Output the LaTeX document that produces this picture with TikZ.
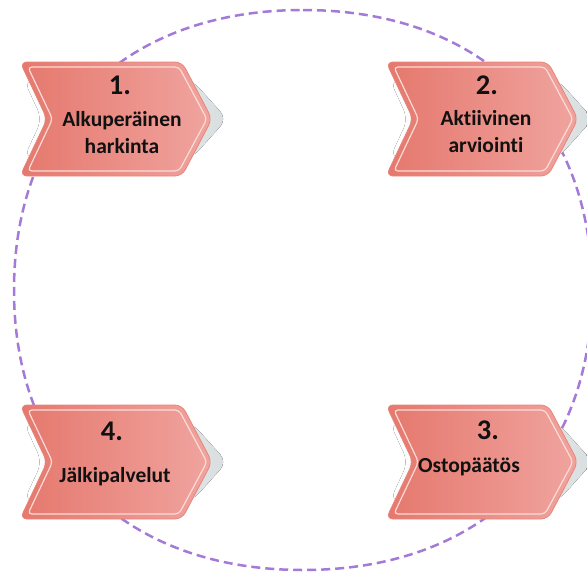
\documentclass[tikz,border=0pt]{standalone}
\usepackage{fontspec}
\setmainfont{Carlito}[RawFeature={-liga}]
\definecolor{ringpurple}{HTML}{A47AD8}
\definecolor{bodyL}{HTML}{E5786D}
\definecolor{bodyR}{HTML}{F0A49F}
\definecolor{bodyEdge}{HTML}{E8857B}
\definecolor{rimcol}{HTML}{FBDCD8}
\definecolor{shadowgray}{HTML}{D8DEDF}
\definecolor{inkcol}{HTML}{111111}
\tikzset{
  ring/.style={draw=ringpurple, line width=2.5pt, dash pattern=on 9pt off 5pt},
  numtext/.style={font=\bfseries\fontsize{28.5}{30}\selectfont, text=inkcol, inner sep=0pt, anchor=base},
  labeltext/.style={font=\bfseries\fontsize{21.5}{27}\selectfont, text=inkcol, inner sep=0pt, anchor=base},
  pics/stage/.style={code={
    % soft shadow behind the chevron
    \fill[left color=white, right color=shadowgray, rounded corners=10]
      (4,18) -- (172,18) -- (207,57) -- (172,96) -- (4,96) -- (22,57) -- cycle;
    % chevron body
    \path[left color=bodyL, right color=bodyR, draw=bodyEdge, line width=0.8pt, rounded corners=7]
      (0,0) -- (162,0) -- (192,57) -- (162,114) -- (0,114) -- (27,57) -- cycle;
    % inner light rim
    \draw[rimcol, line width=1.2pt, rounded corners=4]
      (7.9,5) -- (159,5) -- (186.9,57) -- (159,109) -- (7.9,109) -- (32.5,57) -- cycle;
  }}
}
\begin{document}
\begin{tikzpicture}[x=1pt, y=-1pt]
  \useasboundingbox (0,0) rectangle (587,574);

  % dashed cycle ring
  \draw[ring] (303,10) .. controls (480,10) and (592,118.5) .. (592,290)
    .. controls (592,461.5) and (480,570) .. (303,570)
    .. controls (126,570) and (14,461.5) .. (14,290)
    .. controls (14,118.5) and (126,10) .. (303,10);

  % the four stages
  \pic at (20,62) {stage};
  \pic at (386,62) {stage};
  \pic at (386,405) {stage};
  \pic at (20,405) {stage};

  % stage 1
  \node[numtext] (n1) at (120,94) {1.};
  \node[labeltext] (s1a) at (122,126) {Alkuperäinen};
  \node[labeltext] (s1b) at (122,153) {harkinta};

  % stage 2
  \node[numtext] (n2) at (487,94) {2.};
  \node[labeltext] (s2a) at (486,125) {Aktiivinen};
  \node[labeltext] (s2b) at (486,152) {arviointi};

  % stage 3
  \node[numtext] (n3) at (488,439) {3.};
  \node[labeltext] (s3a) at (469,472) {Ostopäätös};

  % stage 4
  \node[numtext] (n4) at (112,440) {4.};
  \node[labeltext] (s4a) at (115,482) {Jälkipalvelut};
\end{tikzpicture}
\end{document}
